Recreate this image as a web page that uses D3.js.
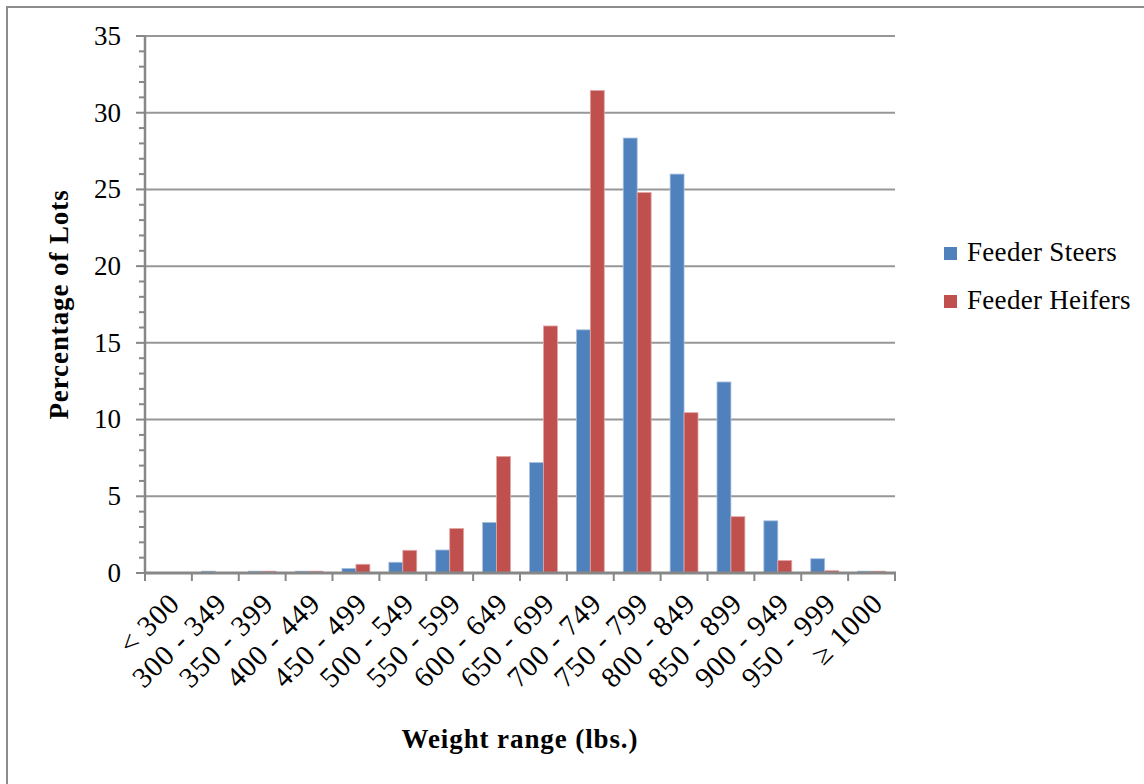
<!DOCTYPE html>
<html>
<head>
<meta charset="utf-8">
<script src="https://cdn.jsdelivr.net/npm/d3@7/dist/d3.min.js"></script>
<style>
  html, body { margin: 0; padding: 0; background: #fff; }
  svg text { font-family: "Liberation Serif", "DejaVu Serif", serif; fill: #000; }
</style>
</head>
<body>
<svg id="chart" width="1144" height="784"></svg>
<script>
// Weight ranges (lbs.) for feeder cattle lots
const categories = ["< 300", "300 - 349", "350 - 399", "400 - 449", "450 - 499", "500 - 549",
  "550 - 599", "600 - 649", "650 - 699", "700 - 749", "750 - 799", "800 - 849",
  "850 - 899", "900 - 949", "950 - 999", "\u2265 1000"];
// Percentage of lots in each weight range
const steers  = [0, 0.12, 0.12, 0.12, 0.3, 0.7, 1.5, 3.3, 7.2, 15.85, 28.35, 26.0, 12.45, 3.4, 0.93, 0.12];
const heifers = [0, 0, 0.12, 0.12, 0.57, 1.48, 2.9, 7.6, 16.1, 31.45, 24.8, 10.45, 3.67, 0.82, 0.15, 0.12];
const seriesNames = ["Feeder Steers", "Feeder Heifers"];
const seriesColors = ["#4f81bd", "#c0504d"];
const yTicks = [0, 5, 10, 15, 20, 25, 30, 35];

const svg = d3.select("#chart");
const plot = { left: 145, right: 895, top: 36, bottom: 573 };

// Outer frame
svg.append("rect").attr("x", 7).attr("y", 7).attr("width", 1160).attr("height", 800)
  .attr("fill", "none").attr("stroke", "#8c8c8c").attr("stroke-width", 2);

const x = d3.scaleBand().domain(categories).range([plot.left, plot.right]).paddingInner(0).paddingOuter(0);
const y = d3.scaleLinear().domain([0, 35]).range([plot.bottom, plot.top]);
const xs = d3.scaleBand().domain(seriesNames).range([0, x.bandwidth()]).paddingInner(0).paddingOuter(0.68);

// Horizontal gridlines
svg.append("g").selectAll("line").data(yTicks.filter(d => d > 0)).join("line")
  .attr("x1", plot.left).attr("x2", plot.right)
  .attr("y1", d => y(d)).attr("y2", d => y(d))
  .attr("stroke", "#979797").attr("stroke-width", 2);

// Bars
const rows = categories.map((c, i) => ({ c, vals: [steers[i], heifers[i]] }));
const groups = svg.append("g").selectAll("g").data(rows).join("g")
  .attr("transform", d => `translate(${x(d.c)},0)`);
groups.selectAll("rect").data(d => d.vals.map((v, k) => ({ v, k })).filter(e => e.v > 0)).join("rect")
  .attr("x", e => xs(seriesNames[e.k]))
  .attr("width", xs.bandwidth())
  .attr("y", e => y(e.v))
  .attr("height", e => y(0) - y(e.v))
  .attr("fill", e => seriesColors[e.k])
  .attr("stroke", e => e.k === 0 ? "#a9c0de" : "#e0a7a6")
  .attr("stroke-width", 0.8);

// Y axis with minor ticks
const yAxis = svg.append("g").attr("transform", `translate(${plot.left},0)`);
yAxis.append("line").attr("x1", 0).attr("x2", 0).attr("y1", plot.top).attr("y2", plot.bottom)
  .attr("stroke", "#878787").attr("stroke-width", 2.5);
yAxis.selectAll("line.minor").data(d3.range(0, 36, 1).filter(d => d % 5 !== 0)).join("line")
  .attr("class", "minor").attr("x1", -6).attr("x2", 0)
  .attr("y1", d => y(d)).attr("y2", d => y(d)).attr("stroke", "#878787").attr("stroke-width", 2);
yAxis.selectAll("line.major").data(yTicks).join("line")
  .attr("class", "major").attr("x1", -9).attr("x2", 0)
  .attr("y1", d => y(d)).attr("y2", d => y(d)).attr("stroke", "#878787").attr("stroke-width", 2);
yAxis.selectAll("text").data(yTicks).join("text")
  .attr("x", -24).attr("y", d => y(d)).attr("dy", "0.33em")
  .attr("text-anchor", "end").attr("font-size", 27).text(d => d);

// X axis
const xAxis = svg.append("g").attr("transform", `translate(0,${plot.bottom})`);
xAxis.append("line").attr("x1", plot.left - 1).attr("x2", plot.right + 1).attr("y1", 0).attr("y2", 0)
  .attr("stroke", "#878787").attr("stroke-width", 3);
const bounds = categories.map(c => x(c)).concat([plot.right]);
xAxis.selectAll("line.tick").data(bounds).join("line")
  .attr("class", "tick").attr("x1", d => d).attr("x2", d => d).attr("y1", 0).attr("y2", 8)
  .attr("stroke", "#878787").attr("stroke-width", 2);
xAxis.selectAll("text").data(categories).join("text")
  .attr("transform", c => `translate(${x(c) + x.bandwidth() / 2 + 13},${32}) rotate(-45)`)
  .attr("text-anchor", "end").attr("font-size", 29).attr("letter-spacing", 0.9).text(c => c);

// Axis titles
svg.append("text").attr("transform", `translate(68,${(plot.top + plot.bottom) / 2}) rotate(-90)`)
  .attr("text-anchor", "middle").attr("font-size", 27).attr("font-weight", "bold")
  .attr("letter-spacing", 0.9).text("Percentage of Lots");
svg.append("text").attr("x", 520).attr("y", 748)
  .attr("text-anchor", "middle").attr("font-size", 27).attr("font-weight", "bold")
  .attr("letter-spacing", 0.9).text("Weight range (lbs.)");

// Legend
const legend = svg.append("g");
seriesNames.forEach((name, i) => {
  const ly = 253 + i * 48;
  legend.append("rect").attr("x", 944).attr("y", ly - 6).attr("width", 13).attr("height", 13)
    .attr("fill", seriesColors[i]);
  legend.append("text").attr("x", 967).attr("y", ly + 8).attr("font-size", 27)
    .attr("letter-spacing", 0.3).text(name);
});
</script>
</body>
</html>
